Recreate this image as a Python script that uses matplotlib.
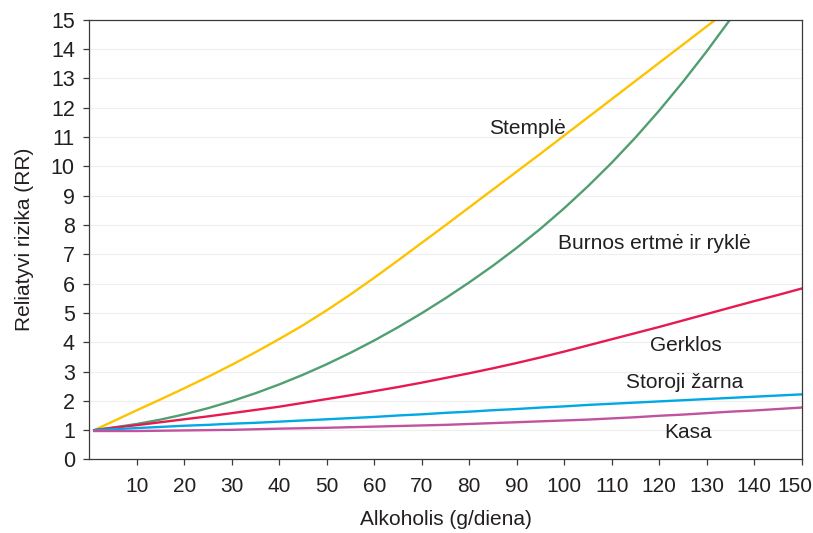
"""Alcohol intake vs relative risk, by cancer site"""

import matplotlib
matplotlib.use("Agg")
import matplotlib.pyplot as plt
import matplotlib.transforms as mtransforms
import numpy as np

plt.rcParams['font.family'] = ['Liberation Sans', 'DejaVu Sans']

alcohol = [1, 5, 10, 15, 20, 25, 30, 35, 40, 45, 50, 55, 60, 65, 70, 75,
           80, 85, 90, 95, 100, 105, 110, 115, 120, 125, 130, 135, 140, 145, 150]

# values; None where the curve has left the top of the chart
stemple = [1.0, 1.3, 1.68, 2.05, 2.43, 2.82, 3.23, 3.66, 4.11, 4.58, 5.09, 5.63, 6.2, 6.79, 7.39, 7.99,
           8.6, 9.21, 9.82, 10.43, 11.05, 11.67, 12.29, 12.91, 13.53, 14.15, 14.77, 15.39, None, None, None]
burnos = [1.0, 1.09, 1.21, 1.36, 1.54, 1.75, 1.99, 2.26, 2.56, 2.89, 3.25, 3.64, 4.06, 4.51, 4.99, 5.5,
          6.04, 6.61, 7.22, 7.87, 8.57, 9.32, 10.12, 10.98, 11.9, 12.88, 13.92, 15.02, None, None, None]
gerklos = [1.0, 1.08, 1.17, 1.27, 1.37, 1.47, 1.58, 1.69, 1.8, 1.93, 2.06, 2.19, 2.33, 2.47, 2.62, 2.78,
           2.94, 3.11, 3.29, 3.48, 3.68, 3.89, 4.1, 4.31, 4.52, 4.74, 4.96, 5.18, 5.4, 5.61, 5.83]
storoji = [1.0, 1.03, 1.07, 1.11, 1.15, 1.18, 1.22, 1.25, 1.29, 1.33, 1.37, 1.41, 1.45, 1.5, 1.54, 1.59,
           1.63, 1.68, 1.72, 1.77, 1.81, 1.86, 1.9, 1.94, 1.98, 2.02, 2.06, 2.1, 2.14, 2.18, 2.22]
kasa = [0.97, 0.97, 0.97, 0.98, 0.99, 1.0, 1.01, 1.03, 1.05, 1.065, 1.08, 1.1, 1.12, 1.14, 1.16, 1.18,
        1.21, 1.24, 1.27, 1.3, 1.33, 1.36, 1.4, 1.44, 1.49, 1.53, 1.58, 1.63, 1.67, 1.72, 1.77]

names = ["Stemplė", "Burnos ertmė ir ryklė", "Gerklos", "Storoji žarna", "Kasa"]
colors = ["#fdc300", "#4f9f72", "#e8194f", "#00a8e6", "#c2529e"]
label_pos = [(92.2, 11.3), (118.9, 7.38), (125.7, 3.9), (125.4, 2.64), (126.0, 0.93)]

fig = plt.figure(figsize=(8.13, 5.33), dpi=100)
ax = fig.add_axes([0.110, 0.138, 0.876, 0.825])

for vals, col in zip([stemple, burnos, gerklos, storoji, kasa], colors):
    y = np.array([np.nan if v is None else v for v in vals])
    ax.plot(alcohol, y, color=col, lw=1.7, solid_joinstyle='round')

for name, (lx, ly) in zip(names, label_pos):
    ax.text(lx, ly, name, ha='center', va='center', fontsize=15, color='#231f20')

ax.set_xlim(0, 150)
ax.set_ylim(0, 15)
ax.set_xticks(range(10, 151, 10))
ax.set_yticks(range(0, 16))
ax.grid(axis='y', color='#eeeeee', lw=0.8)
ax.set_axisbelow(True)
for sp in ax.spines.values():
    sp.set_color('#3a3a3a')
    sp.set_linewidth(0.9)
ax.tick_params(colors='#3a3a3a', labelcolor='#231f20', labelsize=15.5, length=4.5, width=0.9)
ax.tick_params(axis='x', pad=8, labelsize=15)
ax.tick_params(axis='y', pad=6)
ax.set_xlabel("Alkoholis (g/diena)", fontsize=15, color='#231f20', labelpad=10)
ax.set_ylabel("Reliatyvi rizika (RR)", fontsize=15, color='#231f20', labelpad=12)

# the last x label sits a little left of its tick so it stays inside the figure
last = ax.get_xticklabels()[-1]
last.set_transform(last.get_transform() + mtransforms.ScaledTranslation(-5 / 72, 0, fig.dpi_scale_trans))

plt.savefig("out.png", dpi=100)
